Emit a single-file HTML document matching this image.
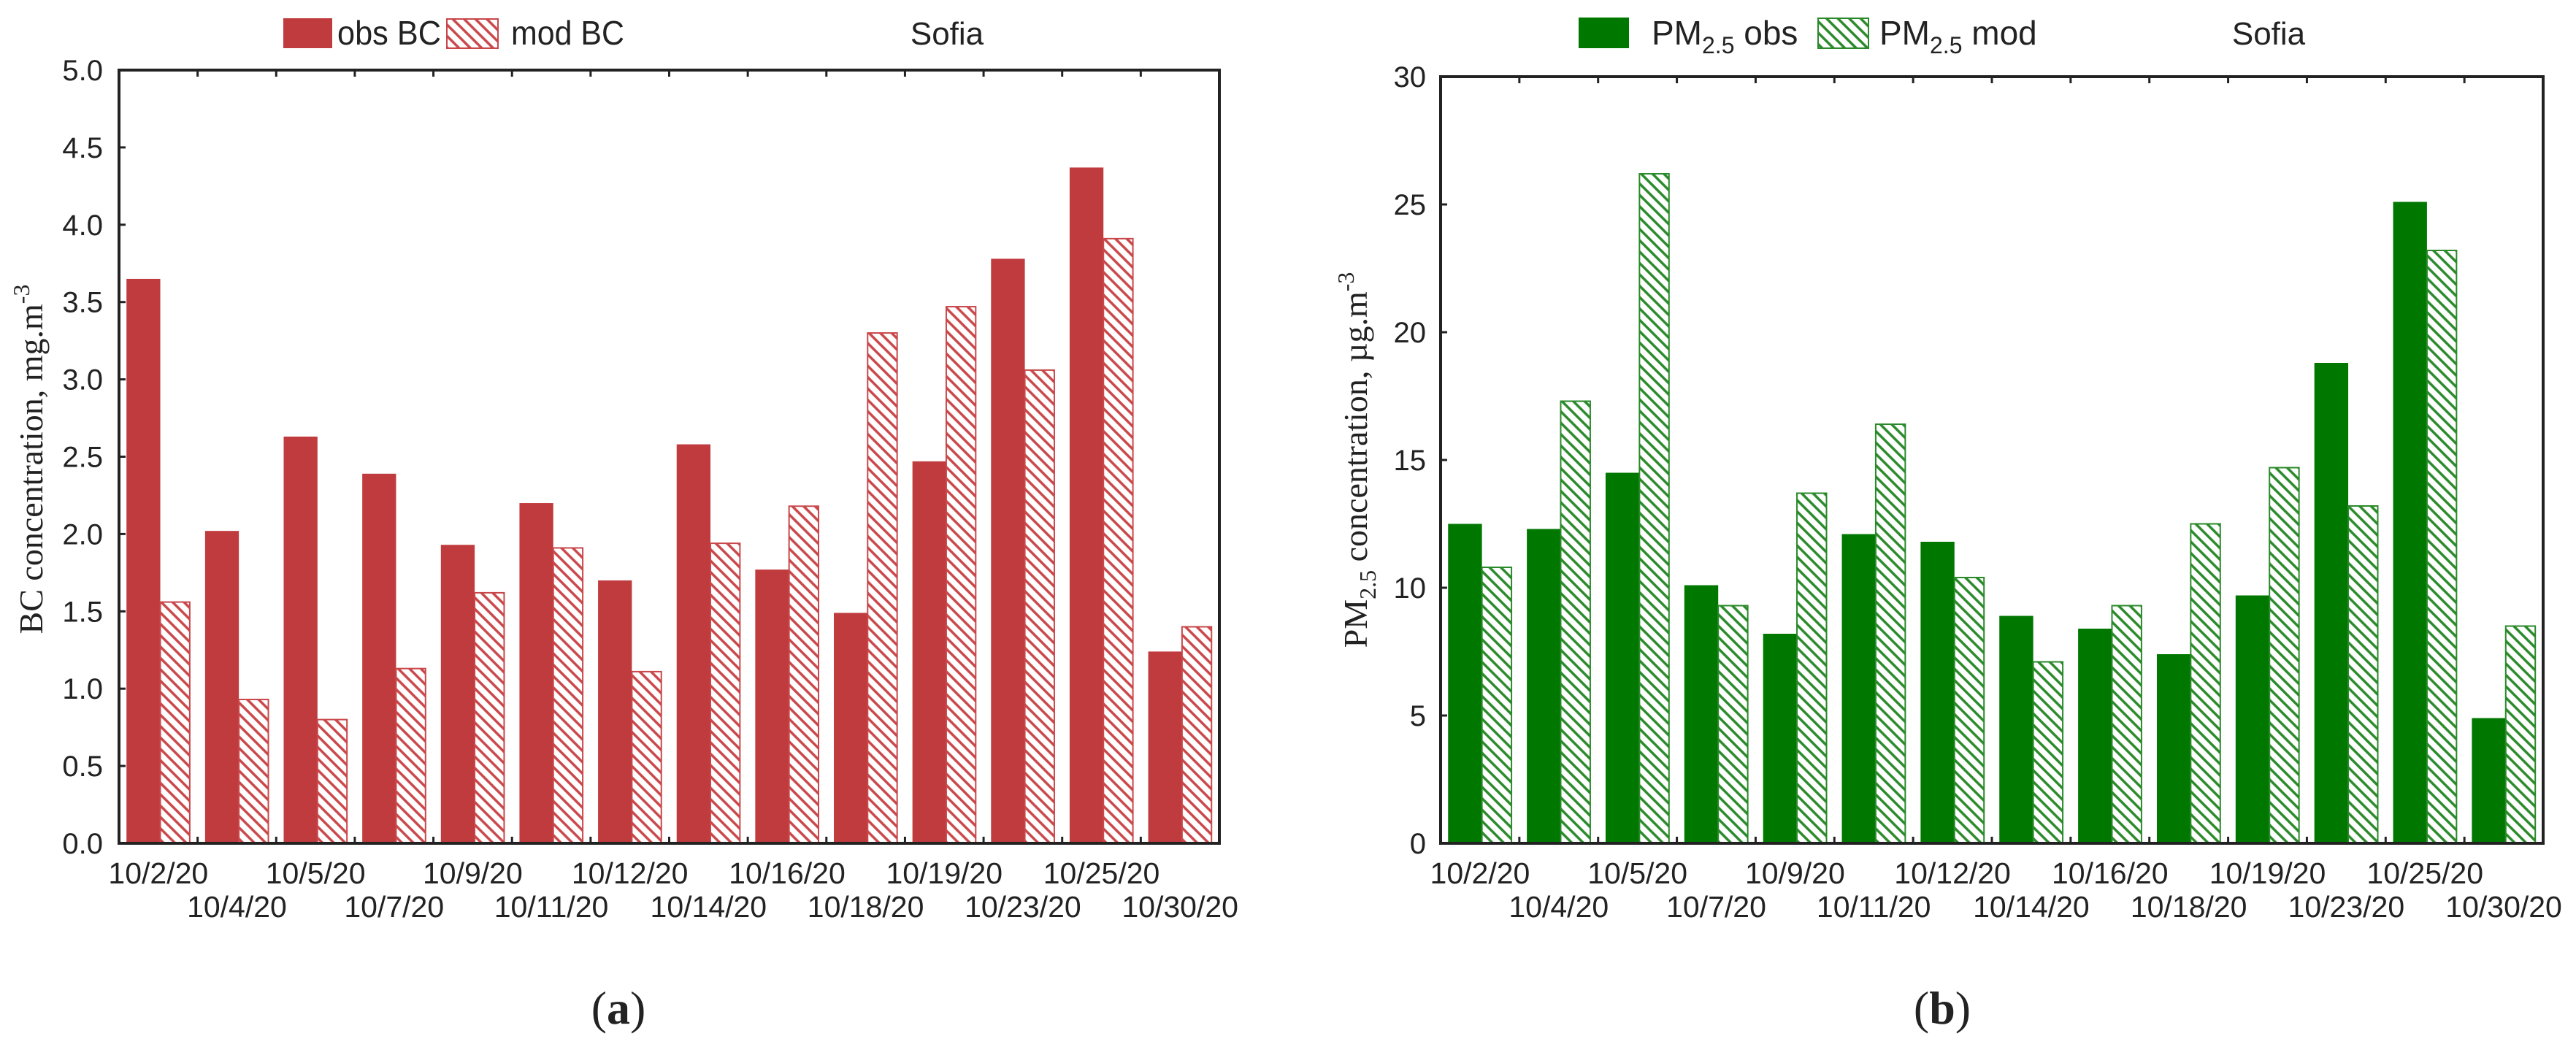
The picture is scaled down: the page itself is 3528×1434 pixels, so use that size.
<!DOCTYPE html>
<html><head><meta charset="utf-8"><style>
html,body{margin:0;padding:0;background:#fff;}
svg{display:block;}
text{font-family:"Liberation Sans",Arial,sans-serif;fill:#222;}
.serif{font-family:"Liberation Serif","Times New Roman",serif;}
</style></head><body>
<svg id="fig" width="3528" height="1434" viewBox="0 0 3528 1434" xmlns="http://www.w3.org/2000/svg">
<defs>
<pattern id="hatchRed" patternUnits="userSpaceOnUse" width="11" height="11" patternTransform="rotate(-45)">
<rect width="11" height="11" fill="#fff"/><line x1="2" y1="0" x2="2" y2="11" stroke="#c9474a" stroke-width="3.5"/>
</pattern>
<pattern id="hatchGreen" patternUnits="userSpaceOnUse" width="11" height="11" patternTransform="rotate(-45)">
<rect width="11" height="11" fill="#fff"/><line x1="2" y1="0" x2="2" y2="11" stroke="#2a8a2a" stroke-width="3.5"/>
</pattern>
</defs>
<g id="chartA"></g>
<g id="chartB"></g>

<!-- legends and titles -->
<g>
<rect x="388" y="25" width="67" height="41" fill="#c03b3d"/>
<text x="462" y="61" font-size="46" textLength="142" lengthAdjust="spacingAndGlyphs">obs BC</text>
<rect x="612" y="26" width="70" height="40" fill="url(#hatchRed)" stroke="#c9474a" stroke-width="2"/>
<text x="700" y="61" font-size="46" textLength="155" lengthAdjust="spacingAndGlyphs">mod BC</text>
<text x="1297" y="61" font-size="44" text-anchor="middle">Sofia</text>
</g>
<g>
<rect x="2162" y="24" width="69" height="42" fill="#007800"/>
<text x="2262" y="61" font-size="46">PM<tspan font-size="32" dy="12">2.5</tspan><tspan dy="-12"> obs</tspan></text>
<rect x="2490" y="25" width="69" height="41" fill="url(#hatchGreen)" stroke="#2a8a2a" stroke-width="2"/>
<text x="2574" y="61" font-size="46">PM<tspan font-size="32" dy="12">2.5</tspan><tspan dy="-12"> mod</tspan></text>
<text x="3107" y="61" font-size="44" text-anchor="middle">Sofia</text>
</g>
<text class="serif" transform="translate(58,629) rotate(-90)" font-size="46" text-anchor="middle">BC concentration, mg.m<tspan font-size="32" dy="-18">-3</tspan></text>
<text class="serif" transform="translate(1872,630) rotate(-90)" font-size="46" text-anchor="middle">PM<tspan font-size="32" dy="12">2.5</tspan><tspan dy="-12"> concentration, µg.m</tspan><tspan font-size="32" dy="-18">-3</tspan></text>
<text class="serif" x="847" y="1402" font-size="64" text-anchor="middle">(<tspan font-weight="bold">a</tspan>)</text>
<text class="serif" x="2660" y="1402" font-size="64" text-anchor="middle">(<tspan font-weight="bold">b</tspan>)</text>
</svg>
<script>
const categories = ["10/2/20","10/4/20","10/5/20","10/7/20","10/9/20","10/11/20","10/12/20","10/14/20","10/16/20","10/18/20","10/19/20","10/23/20","10/25/20","10/30/20"];
const obsBC = [3.65,2.02,2.63,2.39,1.93,2.20,1.70,2.58,1.77,1.49,2.47,3.78,4.37,1.24];
const modBC = [1.56,0.93,0.80,1.13,1.62,1.91,1.11,1.94,2.18,3.30,3.47,3.06,3.91,1.40];
const obsPM = [12.5,12.3,14.5,10.1,8.2,12.1,11.8,8.9,8.4,7.4,9.7,18.8,25.1,4.9];
const modPM = [10.8,17.3,26.2,9.3,13.7,16.4,10.4,7.1,9.3,12.5,14.7,13.2,23.2,8.5];
const bcTicks = ["0.0","0.5","1.0","1.5","2.0","2.5","3.0","3.5","4.0","4.5","5.0"];
const pmTicks = ["0","5","10","15","20","25","30"];
const NS = "http://www.w3.org/2000/svg";

function mk(parent, tag, attrs){
  const e = document.createElementNS(NS, tag);
  for (const k in attrs) e.setAttribute(k, attrs[k]);
  parent.appendChild(e);
  return e;
}

function drawChart(g, cfg){
  const {x0, x1, yTop, y0, yMax, obs, mod, ticks, obsFill, modFill, modStroke, tickLabelX, prefix} = cfg;
  const n = categories.length;
  const cw = (x1 - x0) / n;
  const xScale = i => x0 + i * cw;
  const yScale = v => y0 - (v / yMax) * (y0 - yTop);
  for (let i = 0; i < n; i++){
    const cx = xScale(i);
    const yo = yScale(obs[i]);
    const r1 = mk(g, "rect", {x: cx + cw*0.095, y: yo, width: cw*0.43, height: y0 - yo, fill: obsFill});
    
    
    const ym = yScale(mod[i]);
    const r2 = mk(g, "rect", {x: cx + cw*0.525, y: ym, width: cw*0.375, height: y0 - ym, fill: modFill, stroke: modStroke, "stroke-width": 2});
    
    
    const lbl = mk(g, "text", {x: cx + cw/2, y: (i % 2 === 0) ? 1210 : 1256, "font-size": 41, "text-anchor": "middle"});
    lbl.textContent = categories[i];
    
    
    if (i > 0){
      mk(g, "line", {x1: cx, x2: cx, y1: y0, y2: y0 - 9, stroke: "#222", "stroke-width": 3});
      mk(g, "line", {x1: cx, x2: cx, y1: yTop, y2: yTop + 9, stroke: "#222", "stroke-width": 3});
    }
  }
  const step = yMax / (ticks.length - 1);
  ticks.forEach((t, k) => {
    const y = yScale(k * step);
    mk(g, "line", {x1: x0, x2: x0 + 9, y1: y, y2: y, stroke: "#222", "stroke-width": 3});
    const tl = mk(g, "text", {x: tickLabelX, y: y + 14, "font-size": 40, "text-anchor": "end"});
    tl.textContent = t;
    
    
  });
  const frame = mk(g, "rect", {x: x0, y: yTop, width: x1 - x0, height: y0 - yTop, fill: "none", stroke: "#222", "stroke-width": 4});
  
  
}

drawChart(document.getElementById("chartA"), {x0:163, x1:1670, yTop:96, y0:1155, yMax:5, obs:obsBC, mod:modBC, ticks:bcTicks, obsFill:"#c03b3d", modFill:"url(#hatchRed)", modStroke:"#c9474a", tickLabelX:141, prefix:"bc"});
drawChart(document.getElementById("chartB"), {x0:1973, x1:3483, yTop:105, y0:1155, yMax:30, obs:obsPM, mod:modPM, ticks:pmTicks, obsFill:"#007800", modFill:"url(#hatchGreen)", modStroke:"#2a8a2a", tickLabelX:1953, prefix:"pm"});
</script>
</body></html>
